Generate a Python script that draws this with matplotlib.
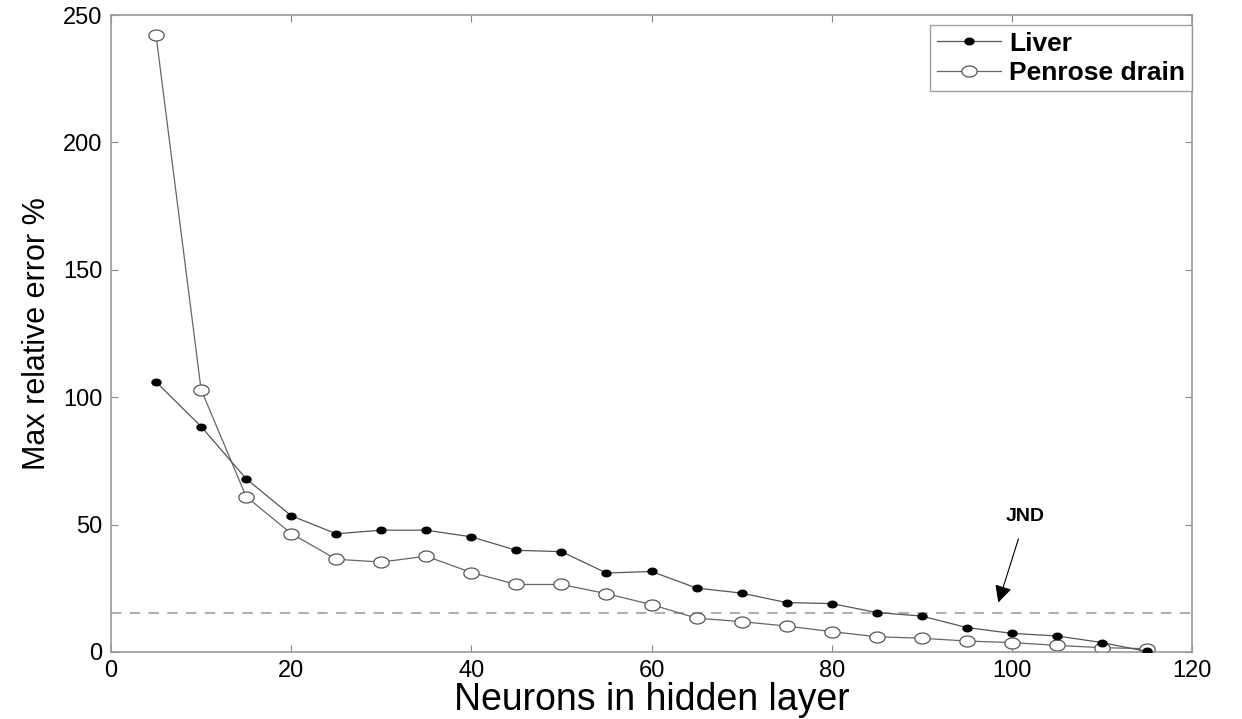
import numpy as np
import matplotlib.pyplot as plt
from matplotlib.path import Path

plt.rcParams['font.family'] = ['Liberation Sans', 'DejaVu Sans']

neurons = [5, 10, 15, 20, 25, 30, 35, 40, 45, 50, 55, 60,
           65, 70, 75, 80, 85, 90, 95, 100, 105, 110, 115]
liver = [106, 88.5, 68, 53.5, 46.4, 47.8, 47.8, 45.2, 39.9, 39.4, 31, 31.6,
         25.1, 23.1, 19.4, 19, 15.5, 14.1, 9.6, 7.3, 6.3, 3.7, 0.2]
penrose = [242, 103, 61, 46.5, 36.4, 35.3, 37.6, 31.2, 26.5, 26.5, 22.9, 18.6,
           13.3, 11.9, 10.2, 8, 6, 5.4, 4.3, 3.7, 2.6, 1.7, 1.3]
jnd = 15.4

# slightly flattened circle, the source image is stretched sideways
t = np.linspace(0, 2 * np.pi, 60)
ellipse = Path(np.column_stack([np.cos(t), 0.72 * np.sin(t)]), closed=True)

fig = plt.figure(figsize=(12.42, 7.19), dpi=100)
ax = fig.add_axes([111/1242, 1 - 652/719, (1192-111)/1242, (652-15)/719])

ax.axhline(jnd, color='#b0b0b0', lw=1.5, ls=(0, (5, 4)), zorder=1)
ax.plot(neurons, liver, '-', color='#555555', lw=0.9, marker=ellipse, ms=6.5,
        mfc='black', mec='black', label='Liver', zorder=3)
ax.plot(neurons, penrose, '-', color='#666666', lw=0.9, marker=ellipse, ms=11,
        mfc='white', mec='#555555', mew=0.9, label='Penrose drain', zorder=2)

ax.annotate('JND', xy=(98.5, 19.4), xytext=(101.5, 53),
            fontsize=14, fontweight='bold', ha='center', va='center',
            arrowprops=dict(arrowstyle='-|>', color='black', lw=0.8,
                            mutation_scale=26, shrinkA=8, shrinkB=0))

ax.set_xlim(0, 120)
ax.set_ylim(0, 250)
ax.set_xticks(np.arange(0, 121, 20))
ax.set_yticks(np.arange(0, 251, 50))
ax.tick_params(direction='in', top=True, right=True, length=5, width=0.8,
               color='#888888', labelsize=17, pad=6)
for s in ax.spines.values():
    s.set_color('#999999')
    s.set_linewidth(1.2)

ax.set_xlabel('Neurons in hidden layer', fontsize=27, labelpad=0)
ax.set_ylabel('Max relative error %', fontsize=22, labelpad=8)

leg = ax.legend(loc='upper right', bbox_to_anchor=(1, 1 - 10/637),
                borderaxespad=0, fontsize=19, frameon=True, fancybox=False,
                handlelength=2.45, handletextpad=0.3, borderpad=0.25,
                labelspacing=0.2)
leg.get_frame().set_edgecolor('#888888')
leg.get_frame().set_linewidth(1.0)
for tx in leg.get_texts():
    tx.set_fontweight('bold')

fig.savefig('out.png', dpi=100)
